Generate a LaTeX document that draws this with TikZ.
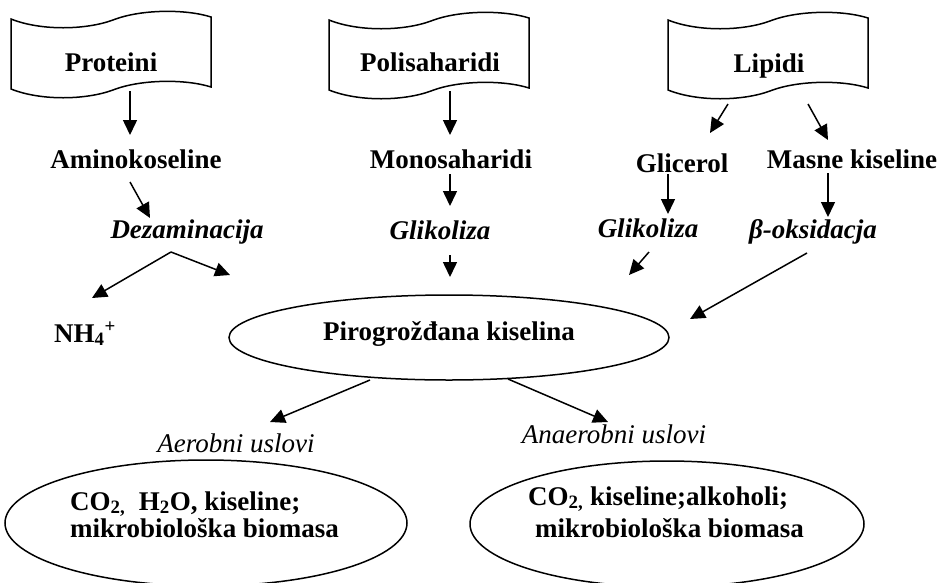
\documentclass[tikz,border=0pt]{standalone}
\usepackage{fontspec}
\setmainfont{Liberation Serif}
\usetikzlibrary{arrows.meta,shapes.geometric}
\begin{document}
\begin{tikzpicture}[x=1pt,y=-1pt,
  txt/.style={inner sep=0pt, anchor=base, font=\fontsize{27}{30}\selectfont\bfseries},
  itx/.style={inner sep=0pt, anchor=base, font=\fontsize{27}{30}\selectfont\bfseries\itshape},
  ltx/.style={inner sep=0pt, anchor=base, font=\fontsize{27}{30}\selectfont\itshape},
  arr/.style={line width=1.5pt, -{Triangle[length=15pt,width=14pt]}},
  shp/.style={line width=1.5pt},
  oval/.style={shp, draw, ellipse, inner sep=0pt},
  flagpic/.pic={\draw[shp] (0,0) .. controls (30,12) and (75,11) .. (102,1)
      .. controls (130,-10) and (175,-10) .. (200,-2) -- (200,68)
      .. controls (175,60) and (130,60) .. (102,71)
      .. controls (75,81) and (30,82) .. (0,70) -- cycle;}]
\useasboundingbox (0,0) rectangle (940,582);

% source flags
\pic at (11,19) {flagpic};
\pic at (329,20) {flagpic};
\pic at (668,20) {flagpic};
\node[txt] (prot) at (111,71) {Proteini};
\node[txt] (polis) at (430,71) {Polisaharidi};
\node[txt] (lip) at (769,72) {Lipidi};

% intermediate texts
\node[txt] (amino) at (136,168) {Aminokoseline};
\node[itx] (dez) at (187,238) {Dezaminacija};
\node[txt] (nh4) at (85,342) {NH\textsubscript{4}\textsuperscript{+}};
\node[txt] (mono) at (451,168) {Monosaharidi};
\node[itx] (glik1) at (440,239) {Glikoliza};
\node[txt] (glic) at (682,172) {Glicerol};
\node[txt] (masne) at (852,168) {Masne kiseline};
\node[itx] (glik2) at (648,237) {Glikoliza};
\node[itx] (beta) at (813,238) {β-oksidacja};

% pyruvate
\node[oval, minimum width=440pt, minimum height=85pt] (pir) at (449,337.5) {};
\node[txt] (pirt) at (449,340) {Pirogrožđana kiselina};

% conditions
\node[ltx] (aer) at (236,452) {Aerobni uslovi};
\node[ltx] (anaer) at (614,443) {Anaerobni uslovi};

% products
\node[oval, minimum width=402pt, minimum height=126pt] (prodA) at (206,523) {};
\node[oval, minimum width=394pt, minimum height=126pt] (prodB) at (667,524) {};
\node[txt, anchor=base west] (a1) at (70,510) {CO\textsubscript{2,}\ \ H\textsubscript{2}O, kiseline;};
\node[txt, anchor=base west] (a2) at (70,537) {mikrobiološka biomasa};
\node[txt, anchor=base west] (b1) at (528,505) {CO\textsubscript{2,} kiseline;alkoholi;};
\node[txt, anchor=base west] (b2) at (535,537) {mikrobiološka biomasa};

% arrow end points
\coordinate (s1) at (130,91);   \coordinate (e1) at (130,135);
\coordinate (s2) at (130,182);  \coordinate (e2) at (150,218);
\coordinate (s3) at (171,252);  \coordinate (e3a) at (92,298); \coordinate (e3b) at (230,275);
\coordinate (s4) at (450,91);   \coordinate (e4) at (450,135);
\coordinate (s5) at (450,174);  \coordinate (e5) at (450,206);
\coordinate (s6) at (450,255);  \coordinate (e6) at (450,277);
\coordinate (s7) at (728,104);  \coordinate (e7) at (710,133);
\coordinate (s8) at (808,104);  \coordinate (e8) at (828,140);
\coordinate (s9) at (668,174);  \coordinate (e9) at (668,214);
\coordinate (s10) at (828,173); \coordinate (e10) at (828,217);
\coordinate (s11) at (649,252); \coordinate (e11) at (629,275);
\coordinate (s12) at (807,253); \coordinate (e12) at (690,319);
\coordinate (s13) at (370,380); \coordinate (e13) at (270,422);
\coordinate (s14) at (508,379); \coordinate (e14) at (608,422);

\draw[arr] (s1) -- (e1);
\draw[arr] (s2) -- (e2);
\draw[arr] (s3) -- (e3a);
\draw[arr] (s3) -- (e3b);
\draw[arr] (s4) -- (e4);
\draw[arr] (s5) -- (e5);
\draw[arr] (s6) -- (e6);
\draw[arr] (s7) -- (e7);
\draw[arr] (s8) -- (e8);
\draw[arr] (s9) -- (e9);
\draw[arr] (s10) -- (e10);
\draw[arr] (s11) -- (e11);
\draw[arr] (s12) -- (e12);
\draw[arr] (s13) -- (e13);
\draw[arr] (s14) -- (e14);
\end{tikzpicture}
\end{document}
